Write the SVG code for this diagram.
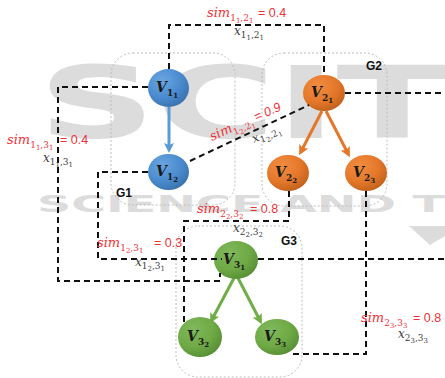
<svg xmlns="http://www.w3.org/2000/svg" width="445" height="378" viewBox="0 0 445 378">
<style>
.wm{font-family:"DejaVu Sans",sans-serif;font-weight:bold;fill:#dcdcdc}
.grp{fill:none;stroke:#bdbdbd;stroke-width:1;stroke-dasharray:2 2}
.glab{font-family:"Liberation Sans",Arial,sans-serif;font-weight:bold;font-size:12px;fill:#111}
.con{fill:none;stroke:#111;stroke-width:2;stroke-dasharray:6 4}
.vl{font-family:"DejaVu Serif",serif;font-weight:bold;font-style:italic;font-size:14px;fill:#1a1a1a}
.vs1{font-size:9px;font-style:normal}
.vs2{font-size:7px;font-style:normal}
.sim{font-family:"DejaVu Serif",serif;font-style:italic;font-size:13px;fill:#ee3338}
.xl{font-family:"DejaVu Serif",serif;font-style:italic;font-size:12px;fill:#404040}
.s1{font-size:9px;font-style:normal}
.s2{font-size:7px;font-style:normal}
.val{font-family:"Liberation Sans",Arial,sans-serif;font-size:12.5px;fill:#ee3338}
</style>
<defs>
<radialGradient id="gb" cx="35%" cy="30%" r="75%"><stop offset="0" stop-color="#6aa6e0"/><stop offset="0.6" stop-color="#4a8bcf"/><stop offset="1" stop-color="#3a72ad"/></radialGradient>
<radialGradient id="go" cx="35%" cy="30%" r="75%"><stop offset="0" stop-color="#f28c40"/><stop offset="0.6" stop-color="#e4782a"/><stop offset="1" stop-color="#c2611c"/></radialGradient>
<radialGradient id="gg" cx="35%" cy="30%" r="75%"><stop offset="0" stop-color="#80b85c"/><stop offset="0.6" stop-color="#6faa45"/><stop offset="1" stop-color="#578e36"/></radialGradient>
<marker id="ab" viewBox="0 0 10 10" refX="7" refY="5" markerWidth="10" markerHeight="11" markerUnits="userSpaceOnUse" orient="auto"><path d="M0,0 L10,5 L0,10 L2,5 z" fill="#5b9bd5"/></marker>
<marker id="ao" viewBox="0 0 10 10" refX="7" refY="5" markerWidth="10" markerHeight="11" markerUnits="userSpaceOnUse" orient="auto"><path d="M0,0 L10,5 L0,10 L2,5 z" fill="#e4782a"/></marker>
<marker id="ag" viewBox="0 0 10 10" refX="7" refY="5" markerWidth="10" markerHeight="11" markerUnits="userSpaceOnUse" orient="auto"><path d="M0,0 L10,5 L0,10 L2,5 z" fill="#70ad47"/></marker>
</defs>
<rect width="445" height="378" fill="#fff"/>
<g id="watermark">
<text class="wm" x="38" y="138" font-size="100" textLength="410" lengthAdjust="spacingAndGlyphs">SCIT</text>
<text class="wm" x="37" y="212" font-size="23" textLength="408" lengthAdjust="spacingAndGlyphs">SCIENCE AND T</text>
<polygon points="409,226 445,226 445,236 430,245" fill="#dcdcdc"/>
</g>
<g id="groups">
<g id="G1"><rect class="grp" x="111" y="53" width="124" height="152" rx="22"/><text class="glab" x="116" y="197">G1</text></g>
<g id="G2"><rect class="grp" x="262" y="53" width="125" height="153" rx="22"/><text class="glab" x="366" y="70">G2</text></g>
<g id="G3"><rect class="grp" x="176" y="226" width="126" height="151" rx="22"/><text class="glab" x="281" y="245">G3</text></g>
</g>
<g id="edges">
<line x1="169" y1="107" x2="169" y2="150" stroke="#5b9bd5" stroke-width="3" marker-end="url(#ab)"/>
<line x1="322" y1="111" x2="300.5" y2="152.5" stroke="#e4782a" stroke-width="3" marker-end="url(#ao)"/>
<line x1="326" y1="111" x2="348.5" y2="154.5" stroke="#e4782a" stroke-width="3" marker-end="url(#ao)"/>
<line x1="234" y1="278" x2="211.5" y2="320.5" stroke="#70ad47" stroke-width="3" marker-end="url(#ag)"/>
<line x1="238" y1="278" x2="260.5" y2="321.5" stroke="#70ad47" stroke-width="3" marker-end="url(#ag)"/>
</g>
<g id="nodes">
<g id="V11"><ellipse cx="168.5" cy="88" rx="20.5" ry="19" fill="url(#gb)"/><text class="vl" x="156" y="92">V<tspan class="vs1" dy="4">1</tspan><tspan class="vs2" dy="2">1</tspan></text></g>
<g id="V12"><ellipse cx="168.5" cy="172" rx="20.5" ry="18" fill="url(#gb)"/><text class="vl" x="156" y="176">V<tspan class="vs1" dy="4">1</tspan><tspan class="vs2" dy="2">2</tspan></text></g>
<g id="V21"><ellipse cx="324" cy="93" rx="21" ry="18" fill="url(#go)"/><text class="vl" x="311" y="97">V<tspan class="vs1" dy="4">2</tspan><tspan class="vs2" dy="2">1</tspan></text></g>
<g id="V22"><ellipse cx="288" cy="173" rx="21" ry="18" fill="url(#go)"/><text class="vl" x="275" y="177">V<tspan class="vs1" dy="4">2</tspan><tspan class="vs2" dy="2">2</tspan></text></g>
<g id="V23"><ellipse cx="366" cy="173" rx="21" ry="18" fill="url(#go)"/><text class="vl" x="353" y="177">V<tspan class="vs1" dy="4">2</tspan><tspan class="vs2" dy="2">3</tspan></text></g>
<g id="V31"><ellipse cx="236" cy="260" rx="22" ry="19" fill="url(#gg)"/><text class="vl" x="223" y="264">V<tspan class="vs1" dy="4">3</tspan><tspan class="vs2" dy="2">1</tspan></text></g>
<g id="V32"><ellipse cx="200" cy="337" rx="22" ry="20" fill="url(#gg)"/><text class="vl" x="187" y="341">V<tspan class="vs1" dy="4">3</tspan><tspan class="vs2" dy="2">2</tspan></text></g>
<g id="V33"><ellipse cx="277" cy="337" rx="22" ry="18" fill="url(#gg)"/><text class="vl" x="264" y="341">V<tspan class="vs1" dy="4">3</tspan><tspan class="vs2" dy="2">3</tspan></text></g>
</g>
<g id="connectors">
<path class="con" d="M169 69 V25 H324 V75"/>
<path class="con" d="M148 87 H58 V281 H220 V273"/>
<path class="con" d="M148 172 H98 V259 H222"/>
<path class="con" d="M190 161 L309 105"/>
<path class="con" d="M289 191 V221 H184 V323"/>
<path class="con" d="M345 93 H445"/>
<path class="con" d="M366 191 V354 H293"/>
<path class="con" d="M258 259 H445"/>
</g>
<g id="labels">
<text class="sim" x="207" y="17">sim<tspan class="s1" dy="4">1</tspan><tspan class="s2" dy="2">1</tspan><tspan class="s1" dy="-2">,2</tspan><tspan class="s2" dy="2">1</tspan></text>
<text class="val" x="258" y="17">= 0.4</text>
<text class="xl" x="234" y="35">x<tspan class="s1" dy="3">1</tspan><tspan class="s2" dy="2">1</tspan><tspan class="s1" dy="-2">,2</tspan><tspan class="s2" dy="2">1</tspan></text>

<text class="sim" x="7" y="144">sim<tspan class="s1" dy="4">1</tspan><tspan class="s2" dy="2">1</tspan><tspan class="s1" dy="-2">,3</tspan><tspan class="s2" dy="2">1</tspan></text>
<text class="val" x="60" y="144">= 0.4</text>
<text class="xl" x="43" y="162">x<tspan class="s1" dy="3">1</tspan><tspan class="s2" dy="2">1</tspan><tspan class="s1" dy="-2">,3</tspan><tspan class="s2" dy="2">1</tspan></text>

<g transform="translate(212 141) rotate(-24)">
<text class="sim" x="0" y="0">sim<tspan class="s1" dy="4">1</tspan><tspan class="s2" dy="2">2</tspan><tspan class="s1" dy="-2">,2</tspan><tspan class="s2" dy="2">1</tspan><tspan class="val" dy="-6" dx="2">= 0.9</tspan></text>
</g>
<g transform="translate(254 143) rotate(-24)">
<text class="xl" x="0" y="0">x<tspan class="s1" dy="3">1</tspan><tspan class="s2" dy="2">2</tspan><tspan class="s1" dy="-2">,2</tspan><tspan class="s2" dy="2">1</tspan></text>
</g>

<text class="sim" x="197" y="213">sim<tspan class="s1" dy="4">2</tspan><tspan class="s2" dy="2">2</tspan><tspan class="s1" dy="-2">,3</tspan><tspan class="s2" dy="2">2</tspan></text>
<text class="val" x="250" y="213">= 0.8</text>
<text class="xl" x="233" y="232">x<tspan class="s1" dy="3">2</tspan><tspan class="s2" dy="2">2</tspan><tspan class="s1" dy="-2">,3</tspan><tspan class="s2" dy="2">2</tspan></text>

<text class="sim" x="97" y="247">sim<tspan class="s1" dy="4">1</tspan><tspan class="s2" dy="2">2</tspan><tspan class="s1" dy="-2">,3</tspan><tspan class="s2" dy="2">1</tspan></text>
<text class="val" x="154" y="247" font-size="12">= 0.3</text>
<text class="xl" x="135" y="266">x<tspan class="s1" dy="3">1</tspan><tspan class="s2" dy="2">2</tspan><tspan class="s1" dy="-2">,3</tspan><tspan class="s2" dy="2">1</tspan></text>

<text class="sim" x="361" y="322">sim<tspan class="s1" dy="4">2</tspan><tspan class="s2" dy="2">3</tspan><tspan class="s1" dy="-2">,3</tspan><tspan class="s2" dy="2">3</tspan></text>
<text class="val" x="413" y="322">= 0.8</text>
<text class="xl" x="398" y="338">x<tspan class="s1" dy="3">2</tspan><tspan class="s2" dy="2">3</tspan><tspan class="s1" dy="-2">,3</tspan><tspan class="s2" dy="2">3</tspan></text>
</g>
</svg>
